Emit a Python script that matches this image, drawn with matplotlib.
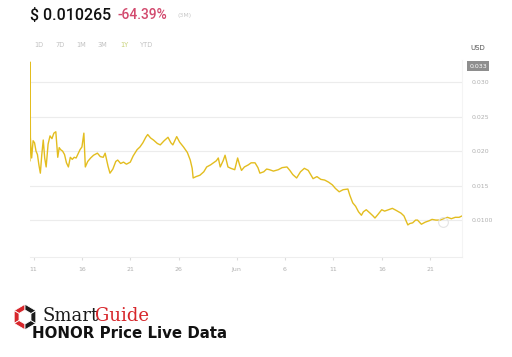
import numpy as np
import matplotlib
matplotlib.use("Agg")
from matplotlib import pyplot as plt
from matplotlib.patches import Polygon

# days since May 11 and price in USD
days = [-0.38, -0.36, -0.33, -0.2, -0.05, 0.1, 0.25, 0.4, 0.55, 0.7, 0.85, 1.0, 1.15, 1.3,
        1.5, 1.7, 1.9, 2.1, 2.3, 2.5, 2.65, 2.8, 3.0, 3.2, 3.4, 3.6, 3.8, 4.0, 4.2, 4.4,
        4.6, 4.8, 5.0, 5.2, 5.35, 5.6, 5.9, 6.2, 6.6, 6.9, 7.2, 7.4, 7.7, 7.9, 8.2, 8.5,
        8.7, 9.0, 9.3, 9.6, 10.0, 10.3, 10.7, 11.0, 11.3, 11.6, 11.8, 12.1, 12.4, 12.8,
        13.1, 13.5, 13.9, 14.2, 14.4, 14.8, 15.1, 15.5, 15.9, 16.2, 16.4, 16.5, 16.8,
        17.2, 17.6, 17.9, 18.3, 18.6, 18.9, 19.1, 19.3, 19.6, 19.8, 20.1, 20.4, 20.8,
        21.1, 21.3, 21.5, 21.8, 22.2, 22.5, 22.9, 23.2, 23.4, 23.8, 24.1, 24.4, 24.8,
        25.3, 25.7, 26.2, 26.5, 26.8, 27.2, 27.6, 28.0, 28.4, 28.9, 29.3, 29.7, 30.1,
        30.5, 30.9, 31.2, 31.6, 32.0, 32.5, 32.7, 33.0, 33.3, 33.6, 33.9, 34.1, 34.4,
        34.8, 35.1, 35.3, 35.6, 36.0, 36.3, 36.7, 37.1, 37.5, 38.0, 38.3, 38.7, 38.9,
        39.2, 39.5, 39.7, 40.1, 40.5, 40.9, 41.2, 41.6, 42.0, 42.4, 42.8, 43.2, 43.6,
        44.0, 44.3]
price = [0.0186, 0.0329, 0.0220, 0.0190, 0.0215, 0.0212, 0.0200, 0.0195, 0.0180, 0.0168,
         0.0195, 0.0216, 0.0190, 0.0177, 0.0210, 0.0222, 0.0218, 0.0226, 0.0228, 0.0191,
         0.0205, 0.0202, 0.0200, 0.0195, 0.0183, 0.0177, 0.0191, 0.0188, 0.0191, 0.0190,
         0.0196, 0.0202, 0.0206, 0.0226, 0.0177, 0.0185, 0.0190, 0.0194, 0.0197, 0.0192,
         0.0191, 0.0197, 0.0178, 0.0168, 0.0174, 0.0185, 0.0187, 0.0182, 0.0184, 0.0181,
         0.0184, 0.0193, 0.0202, 0.0206, 0.0212, 0.0220, 0.0224, 0.0219, 0.0216, 0.0211,
         0.0209, 0.0215, 0.0220, 0.0212, 0.0209, 0.0221, 0.0213, 0.0206, 0.0198, 0.0187,
         0.0175, 0.0161, 0.0163, 0.0165, 0.0170, 0.0177, 0.0180, 0.0183, 0.0186, 0.0190,
         0.0177, 0.0186, 0.0194, 0.0177, 0.0175, 0.0173, 0.0190, 0.0180, 0.0172, 0.0177,
         0.0180, 0.0183, 0.0183, 0.0176, 0.0168, 0.0170, 0.0174, 0.0173, 0.0171, 0.0173,
         0.0176, 0.0177, 0.0172, 0.0166, 0.0161, 0.0170, 0.0175, 0.0172, 0.0160, 0.0163,
         0.0159, 0.0158, 0.0155, 0.0151, 0.0146, 0.0141, 0.0144, 0.0145, 0.0136, 0.0125,
         0.0120, 0.0112, 0.0107, 0.0112, 0.0115, 0.0110, 0.0106, 0.0103, 0.0108, 0.0115,
         0.0113, 0.0115, 0.0117, 0.0114, 0.0110, 0.0106, 0.0093, 0.0095, 0.0096, 0.0100,
         0.0100, 0.0094, 0.0097, 0.0099, 0.0101, 0.0100, 0.0100, 0.0102, 0.0104, 0.0102,
         0.0104, 0.0104, 0.0106]

xtick_pos = [0, 5, 10, 15, 21, 26, 31, 36, 41]
xtick_lab = ["11", "16", "21", "26", "Jun", "6", "11", "16", "21"]
ytick_pos = [0.010, 0.015, 0.020, 0.025, 0.030]
ytick_lab = ["0.0100", "0.015", "0.020", "0.025", "0.030"]
buttons = ["1D", "7D", "1M", "3M", "1Y", "YTD"]

W, H = 512, 357
fig = plt.figure(figsize=(W / 100, H / 100), dpi=100)
fig.patch.set_facecolor("white")

ax = fig.add_axes([30 / W, 1 - 257 / H, 432 / W, 197 / H])
ax.plot(days, price, color="#e3bd1f", lw=1.0)
ax.plot([42.3], [0.0097], "o", ms=7, mfc="none", mec="#e4e4e4", mew=0.8)
ax.set_xlim(-0.37, 44.3)
ax.set_ylim(0.00465, 0.0332)
ax.yaxis.tick_right()
ax.set_yticks(ytick_pos, ytick_lab)
ax.set_xticks(xtick_pos, xtick_lab)
ax.tick_params(axis="y", length=0, labelsize=4.5, labelcolor="#b0b0b0", pad=7)
ax.tick_params(axis="x", length=2, color="#dddddd", labelsize=4.5, labelcolor="#b0b0b0", pad=5)
ax.grid(axis="y", color="#ececec", lw=0.8)
for s in ["top", "left"]:
    ax.spines[s].set_visible(False)
ax.spines["right"].set_color("#f4f4f4")
ax.spines["bottom"].set_color("#eeeeee")

# current price tag
fig.text(478 / W, 1 - 66 / H, "0.033", fontsize=4.5, color="white", ha="center", va="center",
         bbox=dict(boxstyle="square,pad=0.35", fc="#8e8e8e", ec="none"))
fig.text(478 / W, 1 - 48 / H, "USD", fontsize=5, color="#555555", ha="center", va="center")

# header
fig.text(30 / W, 1 - 15 / H, "$ 0.010265", fontsize=11.5, color="#111111", va="center",
         family="Roboto", weight="medium")
fig.text(117 / W, 1 - 15 / H, "-64.39%", fontsize=10, color="#d24a6e", va="center",
         family="Roboto", weight="medium")
fig.text(177 / W, 1 - 16 / H, "(3M)", fontsize=4.5, color="#c8c8c8", va="center")
for b, bx in zip(buttons, [39, 60, 81, 102, 124, 147]):
    c = "#c8d27a" if b == "1Y" else "#c2c2c2"
    fig.text(bx / W, 1 - 45 / H, b, fontsize=4.8, color=c, ha="center", va="center")

# logo
lax = fig.add_axes([10 / W, 1 - 333 / H, 30 / W, 32 / H])
lax.set_xlim(-1.2, 1.2)
lax.set_ylim(-1.25, 1.25)
lax.axis("off")
ang = np.deg2rad(np.arange(90, 450, 60))
outer = np.c_[np.cos(ang), np.sin(ang)]
inner = outer * 0.55
for i in range(6):
    j = (i + 1) % 6
    col = "#d7262b" if i in (0, 1, 2) else "#1a1a1a"
    lax.add_patch(Polygon([outer[i], outer[j], inner[j], inner[i]], closed=True, fc=col, ec="white", lw=0.6))

fig.text(42 / W, 1 - 316 / H, "Smart", fontsize=13, color="#1a1a1a", va="center", family="DejaVu Serif")
fig.text(95 / W, 1 - 316 / H, "Guide", fontsize=13, color="#d7262b", va="center", family="DejaVu Serif")
fig.text(32 / W, 1 - 334 / H, "HONOR Price Live Data", fontsize=10.8, color="#111111", va="center",
         family="DejaVu Sans", weight="bold")

fig.savefig("out.png", dpi=100)
